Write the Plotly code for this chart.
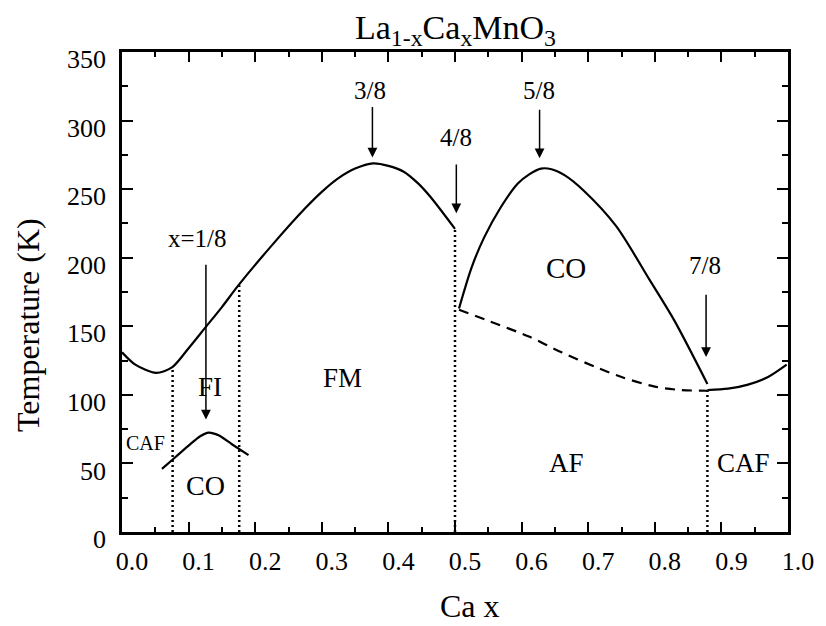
import plotly.graph_objects as go

# ---- data ----
fm_x = [0.0, 0.02, 0.051, 0.075, 0.10, 0.125, 0.15, 0.175, 0.225, 0.275, 0.300, 0.325, 0.350, 0.377, 0.400, 0.423, 0.445, 0.463, 0.5]
fm_T = [131, 122, 116, 120, 134, 149, 164, 180, 209, 236, 248, 258, 265, 268.8, 267, 262.7, 254, 244.4, 221]

co1_x = [0.060, 0.080, 0.100, 0.118, 0.130, 0.145, 0.165, 0.190]
co1_T = [46, 54.5, 63, 70, 72.5, 70.5, 64, 56]

co2_x = [0.506, 0.525, 0.544, 0.569, 0.594, 0.612, 0.629, 0.645, 0.665, 0.693, 0.742, 0.792, 0.829, 0.879]
co2_T = [163, 193, 215, 237, 254, 261, 265, 264.5, 260, 249, 223, 184, 154.5, 108]

af_x = [0.506, 0.55, 0.611, 0.66, 0.710, 0.75, 0.80, 0.84, 0.879]
af_T = [162, 154, 142.5, 131, 120.5, 113, 106, 103.5, 103]

caf_x = [0.879, 0.91, 0.94, 0.97, 0.998]
caf_T = [103.5, 104.5, 107.5, 113, 122]

bound_x = [0.076, 0.176, 0.500, 0.879]
bound_T = [120, 180, 221, 103]

arrow_x = [0.126, 0.376, 0.502, 0.627, 0.877]
arrow_top = [196, 311, 269, 309, 174]
arrow_tip = [82, 273, 232.5, 272.6, 127.6]
arrow_lbl = ["x=1/8", "3/8", "4/8", "5/8", "7/8"]
arrow_lbl_x = [0.113, 0.373, 0.501, 0.626, 0.876]
arrow_lbl_T = [214, 322, 288, 322, 194.6]

phase_lbl = ["CAF", "FI", "CO", "FM", "CO", "AF", "CAF"]
phase_x = [0.036, 0.132, 0.125, 0.331, 0.666, 0.668, 0.933]
phase_T = [65, 106, 34, 112, 192.5, 50, 50]
phase_size = [20, 27, 28, 27, 29, 27, 27]

x_ticks = [0.0, 0.1, 0.2, 0.3, 0.4, 0.5, 0.6, 0.7, 0.8, 0.9, 1.0]
y_ticks = [0, 50, 100, 150, 200, 250, 300, 350]

FONT = "Liberation Serif"
fig = go.Figure()

solid = dict(color="black", width=2.2)
for xs, ts in [(fm_x, fm_T), (co1_x, co1_T), (co2_x, co2_T), (caf_x, caf_T)]:
    fig.add_trace(go.Scatter(x=xs, y=ts, mode="lines", line=dict(shape="spline", smoothing=0.8, **solid),
                             showlegend=False, hoverinfo="skip"))

fig.add_trace(go.Scatter(x=af_x, y=af_T, mode="lines",
                         line=dict(color="black", width=2.2, dash="10px,7px", shape="spline", smoothing=0.8),
                         showlegend=False, hoverinfo="skip"))

for bx, bt in zip(bound_x, bound_T):
    fig.add_trace(go.Scatter(x=[bx, bx], y=[0, bt], mode="lines",
                             line=dict(color="black", width=2.5, dash="2px,3px"),
                             showlegend=False, hoverinfo="skip"))

ann = []
for ax_, top, tip in zip(arrow_x, arrow_top, arrow_tip):
    ann.append(dict(x=ax_, y=tip, ax=ax_, ay=top, xref="x", yref="y", axref="x", ayref="y",
                    text="", showarrow=True, arrowhead=2, arrowsize=1.3, arrowwidth=1.5,
                    arrowcolor="black", standoff=0, startstandoff=0))
for t, lx, ly in zip(arrow_lbl, arrow_lbl_x, arrow_lbl_T):
    ann.append(dict(x=lx, y=ly, xref="x", yref="y", text=t, showarrow=False,
                    font=dict(family=FONT, size=25, color="black")))
for t, lx, ly, s in zip(phase_lbl, phase_x, phase_T, phase_size):
    ann.append(dict(x=lx, y=ly, xref="x", yref="y", text=t, showarrow=False,
                    font=dict(family=FONT, size=s, color="black")))

L, R, T, B = 122, 31, 52, 94
W, H = 826, 626
pw, ph = W - L - R, H - T - B


def px(xp, yp):
    return (xp - L) / pw, (H - yp - B) / ph


tx, ty = px(459, 30)
ann.append(dict(x=tx, y=ty, xref="paper", yref="paper", xanchor="center", yanchor="middle",
                text="La<sub>1-x</sub>Ca<sub>x</sub>MnO<sub>3</sub>",
                showarrow=False, font=dict(family=FONT, size=34, color="black")))
tx, ty = px(474, 606)
ann.append(dict(x=tx, y=ty, xref="paper", yref="paper", xanchor="center", yanchor="middle",
                text="Ca x", showarrow=False, font=dict(family=FONT, size=32, color="black")))
tx, ty = px(27, 325)
ann.append(dict(x=tx, y=ty, xref="paper", yref="paper", xanchor="center", yanchor="middle",
                text="Temperature (K)", textangle=-90,
                showarrow=False, font=dict(family=FONT, size=32, color="black")))

fig.update_layout(
    width=W, height=H, margin=dict(l=L, r=R, t=T, b=B),
    paper_bgcolor="white", plot_bgcolor="white",
    annotations=ann, font=dict(family=FONT, color="black"),
    showlegend=False,
)
fig.update_xaxes(range=[0, 1], tickvals=x_ticks, ticktext=[f"{v:.1f}" for v in x_ticks],
                 ticks="inside", ticklen=10, tickwidth=2, tickcolor="black",
                 minor=dict(ticks="inside", ticklen=5, tickwidth=2, tickcolor="black", dtick=0.05),
                 showline=True, linecolor="black", linewidth=2.5, mirror="allticks",
                 showgrid=False, zeroline=False,
                 tickfont=dict(family=FONT, size=26, color="black"),
                 ticklabelstandoff=4, ticklabelshift=10)
fig.update_yaxes(range=[0, 350], tickvals=y_ticks,
                 ticks="inside", ticklen=11, tickwidth=2, tickcolor="black",
                 minor=dict(ticks="inside", ticklen=6, tickwidth=2, tickcolor="black", dtick=25),
                 showline=True, linecolor="black", linewidth=2.5, mirror="allticks",
                 showgrid=False, zeroline=False,
                 tickfont=dict(family=FONT, size=26, color="black"),
                 ticklabelstandoff=8, ticklabelshift=7)

fig.write_html("out.html")
